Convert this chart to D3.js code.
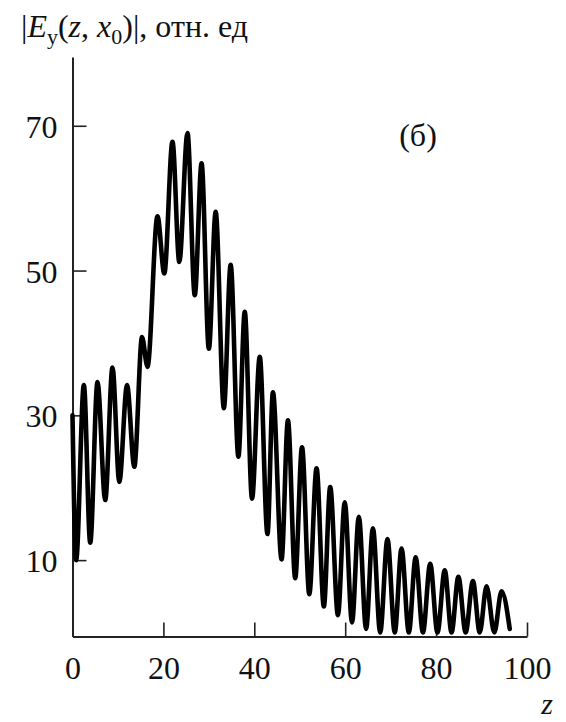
<!DOCTYPE html>
<html>
<head>
<meta charset="utf-8">
<script src="https://cdn.jsdelivr.net/npm/d3@7/dist/d3.min.js"></script>
<style>
  html, body { margin: 0; padding: 0; background: #fff; }
  svg text { font-family: "Liberation Serif", "Times New Roman", serif; fill: #111; }
</style>
</head>
<body>
<svg id="chart" width="566" height="722"></svg>
<script>
// Field amplitude |E_y| along z: successive maxima and minima of the oscillation
const zPoints = [
  0.0, 0.8, 2.5, 3.9, 5.5, 7.2, 8.8, 10.3, 12.0, 13.6,
  15.3, 16.5, 18.7, 20.2, 22.0, 23.5, 25.3, 26.9, 28.4, 30.0,
  31.5, 33.3, 34.8, 36.5, 37.9, 39.5, 41.2, 42.9, 44.1, 46.0,
  47.4, 49.0, 50.5, 52.1, 53.7, 55.3, 56.7, 58.4, 59.9, 61.5,
  63.0, 64.6, 66.1, 67.7, 69.3, 70.9, 72.4, 74.0, 75.5, 77.1,
  78.7, 80.3, 81.9, 83.4, 84.9, 86.5, 88.1, 89.6, 91.1, 92.8,
  94.4, 96.2
];
const eyValues = [
  30.0, 10.0, 34.2, 12.4, 34.6, 18.3, 36.6, 20.8, 34.2, 22.9,
  40.8, 36.7, 57.5, 49.6, 67.8, 51.2, 69.0, 46.6, 64.8, 39.2,
  58.1, 31.0, 50.8, 24.3, 44.3, 18.5, 38.1, 13.6, 33.2, 10.1,
  29.3, 7.5, 25.6, 5.3, 22.7, 3.6, 20.1, 2.4, 18.0, 1.4,
  16.0, 0.5, 14.4, 0.0, 12.9, 0.0, 11.6, 0.0, 10.4, 0.0,
  9.5, 0.0, 8.6, 0.0, 7.7, 0.0, 7.1, 0.0, 6.4, 0.0,
  5.7, 0.5
];

const xTicks = [0, 20, 40, 60, 80, 100];
const yTicks = [10, 30, 50, 70];
const panelLabel = "(б)";
const xTitle = "z";

const svg = d3.select("#chart");

const x = d3.scaleLinear().domain([0, 100]).range([72.5, 527]);
const y = d3.scaleLinear().domain([-0.55, 79.5]).range([636.5, 57]);

// Axes with inward ticks
const xAxis = d3.axisBottom(x)
  .tickValues(xTicks)
  .tickSizeInner(-14)
  .tickSizeOuter(0)
  .tickPadding(20);

const yAxis = d3.axisLeft(y)
  .tickValues(yTicks)
  .tickSizeInner(-14)
  .tickSizeOuter(0)
  .tickPadding(15);

const gx = svg.append("g")
  .attr("transform", `translate(0,${y(-0.55)})`)
  .call(xAxis);

const gy = svg.append("g")
  .attr("transform", `translate(${x(0)},0)`)
  .call(yAxis);

[gx, gy].forEach(g => {
  g.select(".domain").attr("stroke", "#222").attr("stroke-width", 2);
  g.selectAll(".tick line").attr("stroke", "#222").attr("stroke-width", 1.6);
  g.selectAll(".tick text")
    .attr("font-family", "Liberation Serif, serif")
    .attr("font-size", 32)
    .attr("fill", "#111");
});
gy.selectAll(".tick text").attr("dy", "0.36em");

// The curve
const pts = zPoints.map((z, i) => [z, eyValues[i]]);
const line = d3.line()
  .x(d => x(d[0]))
  .y(d => y(d[1]))
  .curve(d3.curveMonotoneX);

svg.append("path")
  .datum(pts)
  .attr("d", line)
  .attr("fill", "none")
  .attr("stroke", "#000")
  .attr("stroke-width", 4.6)
  .attr("stroke-linejoin", "round")
  .attr("stroke-linecap", "round");

// Y-axis title: |E_y(z, x_0)|, отн. ед
const title = svg.append("text")
  .attr("x", 21)
  .attr("y", 37)
  .attr("font-size", 32);
title.append("tspan").text("|");
title.append("tspan").attr("font-style", "italic").text("E");
title.append("tspan").attr("font-size", 22).attr("dy", 7).text("y");
title.append("tspan").attr("dy", -7).text("(");
title.append("tspan").attr("font-style", "italic").text("z");
title.append("tspan").text(", ");
title.append("tspan").attr("font-style", "italic").text("x");
title.append("tspan").attr("font-size", 22).attr("dy", 7).text("0");
title.append("tspan").attr("dy", -7).text(")|, отн. ед");

// Panel label
svg.append("text")
  .attr("x", 418)
  .attr("y", 146)
  .attr("text-anchor", "middle")
  .attr("font-size", 32)
  .text(panelLabel);

// X-axis title
svg.append("text")
  .attr("x", 547)
  .attr("y", 714)
  .attr("text-anchor", "middle")
  .attr("font-size", 30)
  .attr("font-style", "italic")
  .text(xTitle);
</script>
</body>
</html>
